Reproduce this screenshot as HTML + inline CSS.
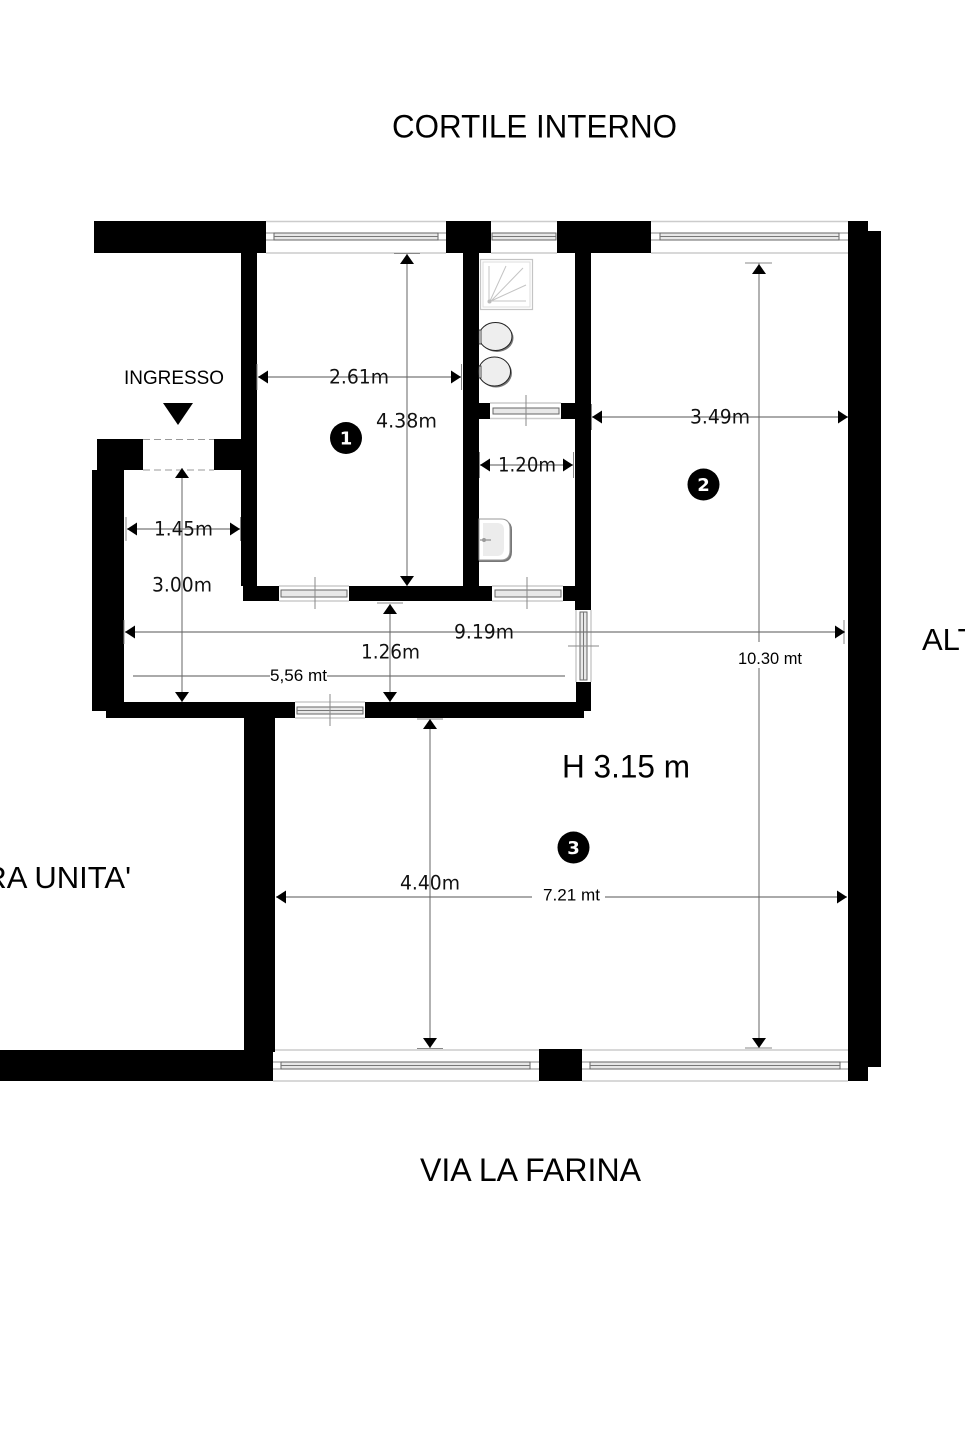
<!DOCTYPE html>
<html>
<head>
<meta charset="utf-8">
<style>
html,body{margin:0;padding:0;background:#fff;width:965px;height:1447px;overflow:hidden}
svg{display:block;filter:blur(.3px)}
.l{font-family:"Liberation Sans",sans-serif;fill:#000}
.d{font-family:"DejaVu Sans",sans-serif;font-size:19.5px;fill:#111}
.m{font-family:"Liberation Sans",sans-serif;font-size:17px;fill:#000}
.n{font-family:"DejaVu Sans",sans-serif;font-size:18px;font-weight:bold;fill:#fff;text-anchor:middle}
.dim{stroke:#666;stroke-width:1;fill:none}
.dimh{stroke:#777;stroke-width:1.3;fill:none}
.tick{stroke:#888;stroke-width:1;fill:none}
.fr{stroke:#ccc;stroke-width:1.5;fill:none}
.sash{fill:#e8e8e8;stroke:#666;stroke-width:1}
</style>
</head>
<body>
<svg width="965" height="1447" viewBox="0 0 965 1447" xmlns="http://www.w3.org/2000/svg">
<rect width="965" height="1447" fill="#fff"/>

<!-- Window frames -->
<g class="fr">
<path d="M266 221.5H446M266 253H446M491 221.5H557M491 253H557M651 221.5H848M651 253H848"/>
<path d="M490 403H561M490 418.5H561M279 586H349M279 601H349M492 586H563M492 601H563"/>
<path d="M576 610V682M591 610V682M295 702H365M295 718H365"/>
<path d="M273 1050H539M273 1081H539M582 1050H848M582 1081H848"/>
</g>
<g class="tick">
<path d="M266 233H274V240H266M446 233H438V240H446M651 233H660V240H651M848 233H839V240H848M273 1062H281V1069H273M539 1062H530V1069H539M582 1062H590V1069H582M848 1062H840V1069H848"/>
</g>
<!-- Window sashes -->
<rect class="sash" x="274" y="233" width="164" height="7"/>
<line x1="274" y1="236.5" x2="438" y2="236.5" stroke="#777"/>
<rect class="sash" x="492" y="233" width="64" height="7"/>
<line x1="492" y1="236.5" x2="556" y2="236.5" stroke="#777"/>
<rect class="sash" x="660" y="233" width="179" height="7"/>
<line x1="660" y1="236.5" x2="839" y2="236.5" stroke="#777"/>
<rect class="sash" x="493" y="408" width="66" height="6"/>
<rect class="sash" x="281" y="590" width="66" height="7"/>
<rect class="sash" x="495" y="590" width="66" height="7"/>
<rect class="sash" x="580" y="612" width="7" height="68"/>
<line x1="583.5" y1="612" x2="583.5" y2="680" stroke="#777"/>
<rect class="sash" x="297" y="707" width="66" height="7"/>
<line x1="297" y1="710.5" x2="363" y2="710.5" stroke="#777"/>
<rect class="sash" x="281" y="1062" width="249" height="7"/>
<line x1="281" y1="1065.5" x2="530" y2="1065.5" stroke="#777"/>
<rect class="sash" x="590" y="1062" width="250" height="7"/>
<line x1="590" y1="1065.5" x2="840" y2="1065.5" stroke="#777"/>
<g class="tick" stroke="#777">
<path d="M526 395V426M315 577V609M527 577V609M568 646H599M330 694V726"/>
</g>

<!-- Entrance door -->
<path d="M143 439.5H214M143 470H214" stroke="#999" stroke-width="1" stroke-dasharray="7 4" fill="none"/>

<!-- Walls -->
<g fill="#000">
<rect x="94" y="221" width="172" height="32"/>
<rect x="241" y="253" width="16" height="333"/>
<rect x="243" y="586" width="36" height="15"/>
<rect x="97" y="439" width="46" height="31"/>
<rect x="214" y="439" width="43" height="31"/>
<rect x="92" y="470" width="32" height="241"/>
<rect x="106" y="702" width="189" height="16"/>
<rect x="365" y="702" width="219" height="16"/>
<rect x="576" y="682" width="15" height="29"/>
<rect x="349" y="586" width="143" height="15"/>
<rect x="563" y="586" width="28" height="15"/>
<rect x="575" y="253" width="16" height="357"/>
<rect x="463" y="253" width="16" height="333"/>
<rect x="446" y="221" width="45" height="32"/>
<rect x="557" y="221" width="94" height="32"/>
<rect x="478" y="403" width="12" height="16"/>
<rect x="561" y="403" width="15" height="16"/>
<rect x="848" y="221" width="20" height="860"/>
<rect x="848" y="231" width="33" height="836"/>
<rect x="244" y="702" width="31" height="350"/>
<rect x="0" y="1050" width="273" height="31"/>
<rect x="539" y="1049" width="43" height="32"/>
</g>

<!-- Shower -->
<rect x="480.5" y="259.5" width="52" height="50" fill="#fff" stroke="#c4c4c4" stroke-width="1.2"/>
<rect x="483" y="262" width="47" height="45" fill="#fff" stroke="#ddd" stroke-width="1"/>
<g stroke="#c4c4c4" stroke-width="1" fill="none">
<path d="M489 301V266M490 301L506 266M491 301L523 268M491 301L526 285M491 301H526"/>
</g>
<circle cx="489.5" cy="301.5" r="2" fill="#bbb"/>

<!-- Toilets -->
<ellipse cx="497" cy="338" rx="16.5" ry="14" fill="#777"/>
<ellipse cx="495.5" cy="336.5" rx="16.5" ry="14" fill="#eee" stroke="#222" stroke-width="1"/>
<ellipse cx="496" cy="373" rx="16" ry="14.5" fill="#777"/>
<ellipse cx="494.5" cy="371.5" rx="16" ry="14.5" fill="#eee" stroke="#222" stroke-width="1"/>
<rect x="479" y="330" width="2" height="14" fill="#fff" stroke="#222" stroke-width=".8"/>
<rect x="479" y="366" width="2" height="12" fill="#fff" stroke="#222" stroke-width=".8"/>

<!-- Sink -->
<path d="M479 520H502Q512 520 512 530V552Q512 562 502 562H479Z" fill="#777"/>
<path d="M479 519H501Q510 519 510 529V550Q510 560 501 560H479Z" fill="#fff" stroke="#999" stroke-width="1"/>
<path d="M483 523H497Q504 523 504 530V548Q504 556 497 556H483Z" fill="#ececec"/>
<path d="M480 540H491" stroke="#777" stroke-width="1"/>
<circle cx="484" cy="540" r="2" fill="#999"/>

<!-- Dimension lines -->
<g class="dimh">
<path d="M258 377H461"/>
<path d="M592 417H848"/>
<path d="M480 465H573"/>
<path d="M127 529H240"/>
<path d="M125 632H845"/>
<path d="M133 676H565"/>
<path d="M276 897H847"/>
</g>
<g class="dim">
<path d="M407 254V586"/>
<path d="M759 263V1048"/>
<path d="M182 468V702"/>
<path d="M390 604V702"/>
<path d="M430 719V1048"/>
</g>
<g class="tick">
<path d="M257 364V390M461.5 364V390M394 253.5H420M591.5 404V430M745 263H772M745 1048H772M479.5 452V478M573.5 452V478M126 517V541M240.5 517V541M124 620V644M844 620V644M377 603H403M417 1048.5H443M417 719H443"/>
</g>
<!-- Arrowheads -->
<g fill="#000">
<path d="M258 377L268 370.5V383.5Z"/>
<path d="M461 377L451 370.5V383.5Z"/>
<path d="M407 254L400 264H414Z"/>
<path d="M407 586L400 576H414Z"/>
<path d="M592 417L602 410.5V423.5Z"/>
<path d="M848 417L838 410.5V423.5Z"/>
<path d="M759 264L752 274H766Z"/>
<path d="M759 1048L752 1038H766Z"/>
<path d="M480 465L490 458.5V471.5Z"/>
<path d="M573 465L563 458.5V471.5Z"/>
<path d="M127 529L137 522.5V535.5Z"/>
<path d="M240 529L230 522.5V535.5Z"/>
<path d="M182 468L175 478H189Z"/>
<path d="M182 702L175 692H189Z"/>
<path d="M125 632L135 625.5V638.5Z"/>
<path d="M845 632L835 625.5V638.5Z"/>
<path d="M390 604L383 614H397Z"/>
<path d="M390 702L383 692H397Z"/>
<path d="M430 719L423 729H437Z"/>
<path d="M430 1048L423 1038H437Z"/>
<path d="M276 897L286 890.5V903.5Z"/>
<path d="M847 897L837 890.5V903.5Z"/>
<path d="M163 403H193L178 425Z"/>
</g>

<!-- Label backgrounds for line breaks -->
<rect x="532" y="889" width="73" height="16" fill="#fff"/>
<rect x="270" y="668" width="57" height="16" fill="#fff"/>
<rect x="736" y="642" width="70" height="26" fill="#fff"/>

<!-- Dimension text -->
<text class="d" x="329" y="383.5" textLength="60" lengthAdjust="spacingAndGlyphs">2.61m</text>
<text class="d" x="376" y="427.5" textLength="61" lengthAdjust="spacingAndGlyphs">4.38m</text>
<text class="d" x="690" y="423.5" textLength="60" lengthAdjust="spacingAndGlyphs">3.49m</text>
<text class="d" x="498" y="471.5" textLength="58" lengthAdjust="spacingAndGlyphs">1.20m</text>
<text class="d" x="154" y="535.5" textLength="59" lengthAdjust="spacingAndGlyphs">1.45m</text>
<text class="d" x="152" y="591.5" textLength="60" lengthAdjust="spacingAndGlyphs">3.00m</text>
<text class="d" x="454" y="638.5" textLength="60" lengthAdjust="spacingAndGlyphs">9.19m</text>
<text class="d" x="361" y="658.5" textLength="59" lengthAdjust="spacingAndGlyphs">1.26m</text>
<text class="d" x="400" y="889.5" textLength="60" lengthAdjust="spacingAndGlyphs">4.40m</text>
<text class="m" x="270" y="681" textLength="57" lengthAdjust="spacingAndGlyphs">5,56 mt</text>
<text class="m" x="738" y="664" textLength="64" lengthAdjust="spacingAndGlyphs">10.30 mt</text>
<text class="m" x="543" y="900.5" textLength="57" lengthAdjust="spacingAndGlyphs">7.21 mt</text>

<!-- Main labels -->
<text class="l" x="392" y="137.5" font-size="32" textLength="285" lengthAdjust="spacingAndGlyphs">CORTILE INTERNO</text>
<text class="l" x="420" y="1181" font-size="32" textLength="221" lengthAdjust="spacingAndGlyphs">VIA LA FARINA</text>
<text class="l" x="922" y="650" font-size="31">ALTRA UNITA'</text>
<text class="l" x="131" y="888" font-size="31" text-anchor="end">ALTRA UNITA'</text>
<text class="l" x="562" y="777.5" font-size="32" textLength="128" lengthAdjust="spacingAndGlyphs">H 3.15 m</text>
<text class="l" x="124" y="384" font-size="19" textLength="100" lengthAdjust="spacingAndGlyphs">INGRESSO</text>

<!-- Room markers -->
<circle cx="346" cy="438" r="16" fill="#000"/>
<text class="n" x="346" y="444.5">1</text>
<circle cx="703.5" cy="484.5" r="16" fill="#000"/>
<text class="n" x="703.5" y="491">2</text>
<circle cx="573.5" cy="847.5" r="16" fill="#000"/>
<text class="n" x="573.5" y="854">3</text>
</svg>
</body>
</html>
